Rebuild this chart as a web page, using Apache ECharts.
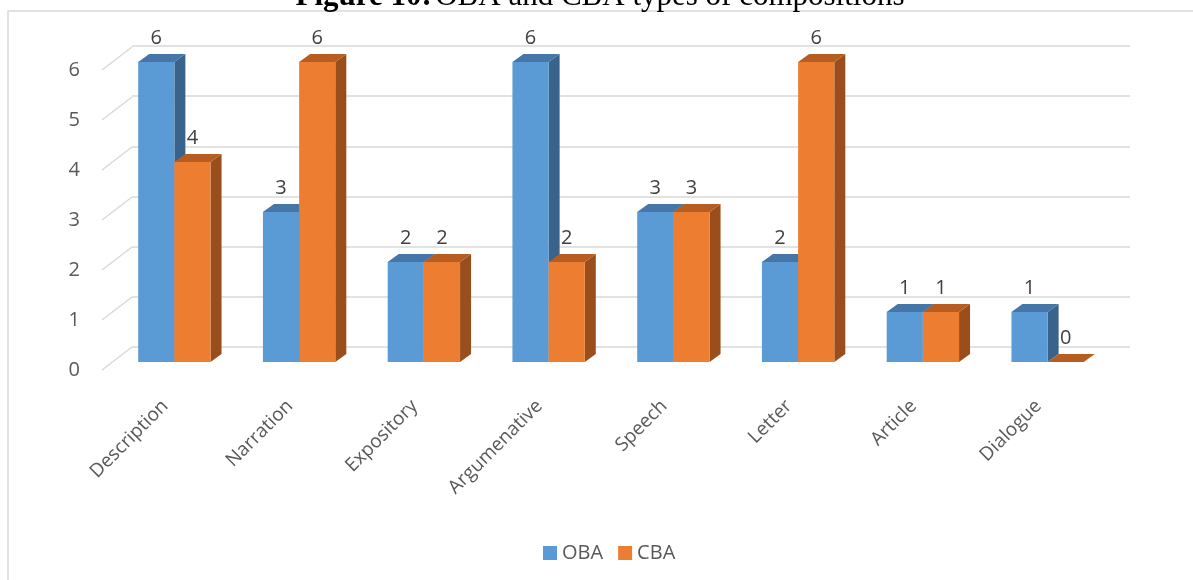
<!DOCTYPE html>
<html>
<head>
<meta charset="utf-8">
<title>OBA and CBA types of compositions</title>
<script src="https://cdn.jsdelivr.net/npm/echarts@6/dist/echarts.min.js"></script>
<style>
  html, body { margin: 0; padding: 0; background: #fff; }
  #chart { width: 1193px; height: 580px; }
</style>
</head>
<body>
<div id="chart"></div>
<script>
// composition types, OBA vs CBA
var categories = ['Description', 'Narration', 'Expository', 'Argumenative', 'Speech', 'Letter', 'Article', 'Dialogue'];
var obaValues = [6, 3, 2, 6, 3, 2, 1, 1];
var cbaValues = [4, 6, 2, 2, 3, 6, 1, 0];
var yTicks = [0, 1, 2, 3, 4, 5, 6];

var FONT = '"Open Sans", "Liberation Sans", sans-serif';
var DX = 11, DY = -8; // depth of each bar

function bar3d(front, top, side, slot) {
  return function (params, api) {
    var i = api.value(0);
    var band = api.size([1, 0])[0];
    var w = band * 0.29;
    var base = api.coord([i, 0]);
    var head = api.coord([i, api.value(1)]);
    var x0 = base[0] + (slot === 0 ? -w : 0);
    var x1 = x0 + w;
    var yb = base[1], yt = head[1];
    var children = [];
    if (yb - yt > 0.5) {
      children.push({
        type: 'polygon',
        shape: { points: [[x1, yt], [x1 + DX, yt + DY], [x1 + DX, yb + DY], [x1, yb]] },
        style: { fill: side }
      });
      children.push({
        type: 'rect',
        shape: { x: x0, y: yt, width: w, height: yb - yt },
        style: { fill: front }
      });
    }
    children.push({
      type: 'polygon',
      shape: { points: [[x0, yt], [x0 + DX, yt + DY], [x1 + DX, yt + DY], [x1, yt]] },
      style: { fill: top }
    });
    children.push({
      type: 'text',
      style: {
        text: String(api.value(1)),
        x: (x0 + x1) / 2,
        y: yt - 24,
        align: 'center',
        verticalAlign: 'middle',
        fontFamily: FONT,
        fontSize: 20,
        fill: '#404040'
      }
    });
    return { type: 'group', children: children };
  };
}

function toPairs(arr) {
  return arr.map(function (v, i) { return [i, v]; });
}

var myChart = echarts.init(document.getElementById('chart'));
var option = {
  animation: false,
  backgroundColor: '#fff',
  graphic: [
    {
      type: 'rect',
      z: -10,
      shape: { x: 8, y: 11, width: 1400, height: 800 },
      style: { fill: 'none', stroke: '#d9d9d9', lineWidth: 1.5 }
    },
    {
      type: 'text',
      style: {
        x: 600,
        y: 12,
        align: 'center',
        verticalAlign: 'bottom',
        text: '{b|Figure 10:} {n|OBA and CBA types of compositions}',
        rich: {
          b: { fontFamily: '"Liberation Serif", serif', fontSize: 31, fontWeight: 'bold', fill: '#000', lineHeight: 31 },
          n: { fontFamily: '"Liberation Serif", serif', fontSize: 31, fill: '#000', lineHeight: 31 }
        }
      }
    }
  ],
  legend: {
    left: 538,
    top: 538,
    itemWidth: 14,
    itemHeight: 14,
    itemGap: 15,
    textStyle: { fontFamily: FONT, fontSize: 20, color: '#595959' },
    data: [{ name: 'OBA', icon: 'rect' }, { name: 'CBA', icon: 'rect' }]
  },
  grid: [
    { left: 132, right: 63, top: 46, bottom: 233 },  // back wall
    { left: 112, right: 83, top: 62, bottom: 218 },  // bar fronts
    { left: 102, right: 93, top: 70, bottom: 210 }   // y labels
  ],
  xAxis: [
    { gridIndex: 0, type: 'category', data: categories, show: false },
    {
      gridIndex: 1, type: 'category', data: categories,
      axisLine: { show: false }, axisTick: { show: false },
      axisLabel: {
        rotate: 45, margin: 32, padding: [0, 13, 0, 0],
        fontFamily: FONT, fontSize: 19, color: '#595959'
      }
    },
    { gridIndex: 2, type: 'value', min: 0, max: 1, show: false }
  ],
  yAxis: [
    {
      gridIndex: 0, type: 'value', min: 0, max: 6, interval: 1,
      axisLine: { show: false }, axisTick: { show: false }, axisLabel: { show: false },
      splitLine: { lineStyle: { color: '#d9d9d9', width: 1.5 } }
    },
    { gridIndex: 1, type: 'value', min: 0, max: 6, interval: 1, show: false },
    {
      gridIndex: 2, type: 'value', min: 0, max: 6, interval: 1,
      axisLine: { show: false }, axisTick: { show: false }, splitLine: { show: false },
      axisLabel: { margin: 22, fontFamily: FONT, fontSize: 20, color: '#595959' }
    }
  ],
  series: [
    {
      type: 'custom',
      name: 'ticks',
      xAxisIndex: 2,
      yAxisIndex: 2,
      silent: true,
      data: yTicks.map(function (v) { return [0, v]; }),
      renderItem: function (params, api) {
        var p = api.coord([0, api.value(1)]);
        return {
          type: 'line',
          shape: { x1: p[0], y1: p[1], x2: p[0] + 30, y2: p[1] - 23 },
          style: { stroke: '#d9d9d9', lineWidth: 1.5 }
        };
      }
    },
    {
      type: 'custom',
      name: 'OBA',
      xAxisIndex: 1,
      yAxisIndex: 1,
      itemStyle: { color: '#5b9bd5' },
      encode: { x: 0, y: 1 },
      data: toPairs(obaValues),
      renderItem: bar3d('#5b9bd5', '#4676a8', '#3a638b', 0)
    },
    {
      type: 'custom',
      name: 'CBA',
      xAxisIndex: 1,
      yAxisIndex: 1,
      itemStyle: { color: '#ed7d31' },
      encode: { x: 0, y: 1 },
      data: toPairs(cbaValues),
      renderItem: bar3d('#ed7d31', '#b85d21', '#9a4e1c', 1)
    }
  ]
};
myChart.setOption(option);
</script>
</body>
</html>
